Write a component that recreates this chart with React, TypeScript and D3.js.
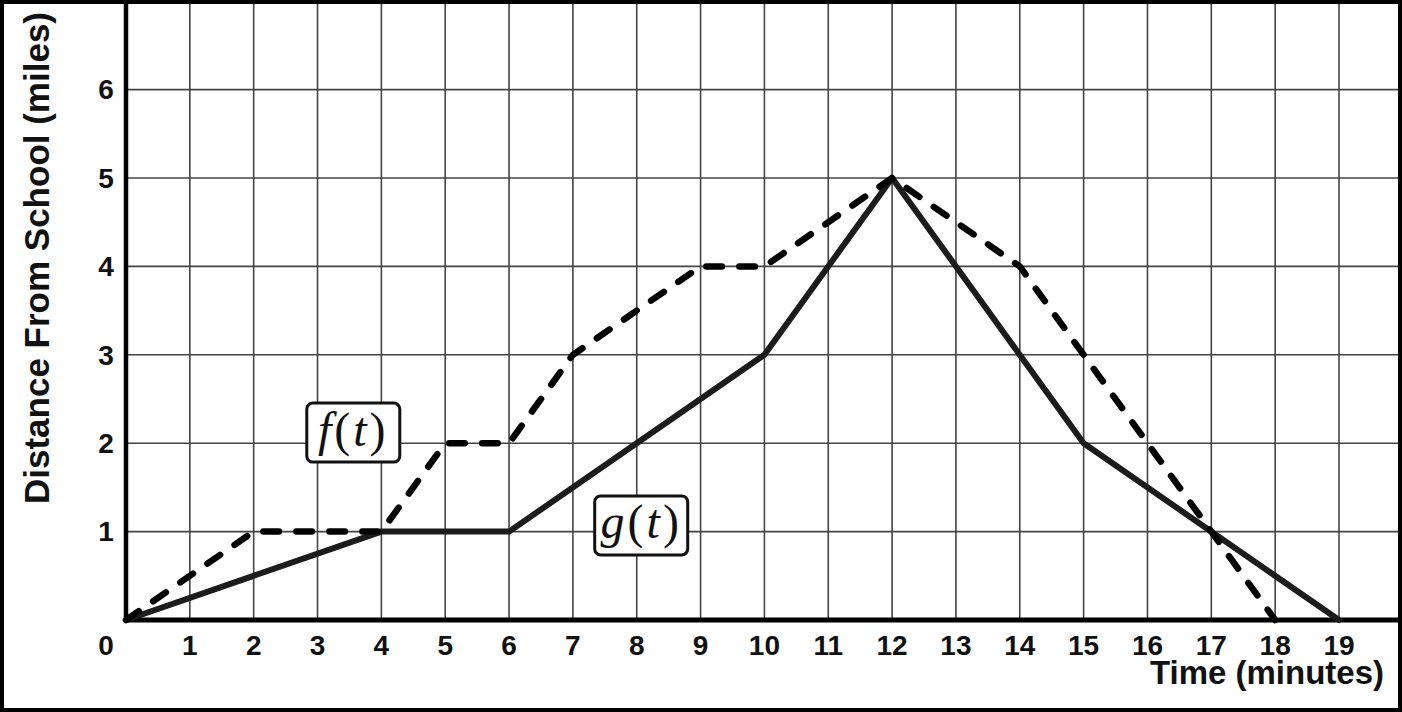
import * as d3 from 'd3'

const fTimes = [0, 2, 4, 5, 6, 7, 9, 10, 12, 14, 15, 18]
const fDist = [0, 1, 1, 2, 2, 3, 4, 4, 5, 4, 3, 0]
const gTimes = [0, 4, 6, 10, 12, 15, 19]
const gDist = [0, 1, 1, 3, 5, 2, 0]
const xTicks = d3.range(0, 20)
const yTicks = [1, 2, 3, 4, 5, 6]
const fLabelAt = [3.56, 2.12]
const gLabelAt = [8.07, 1.07]

const App = () => {
    const width = 1402
    const height = 712

    const x = d3.scaleLinear().domain([0, 19]).range([126, 1339])
    const y = d3.scaleLinear().domain([0, 6]).range([620, 89.6])

    const line = d3
        .line<[number, number]>()
        .x(d => x(d[0]))
        .y(d => y(d[1]))

    const fPts = fTimes.map((t, i) => [t, fDist[i]] as [number, number])
    const gPts = gTimes.map((t, i) => [t, gDist[i]] as [number, number])

    const sans = '"Liberation Sans", Arial, sans-serif'
    const serif = '"Liberation Serif", "Times New Roman", serif'

    const label = (name: string, at: number[]) => {
        const cx = x(at[0])
        const cy = y(at[1])
        return (
            <g key={name}>
                <rect x={cx - 46.5} y={cy - 29.5} width={93} height={59} rx={6}
                    fill="white" stroke="#111" strokeWidth={3} />
                <text x={cx} y={cy} dy="0.27em" textAnchor="middle" fontFamily={serif}
                    fontSize={48} letterSpacing={3} fill="#111">
                    <tspan fontStyle="italic">{name}</tspan>(<tspan fontStyle="italic">t</tspan>)
                </text>
            </g>
        )
    }

    return (
        <svg width={width} height={height}
            style={{ position: 'absolute', left: 0, top: 0, display: 'block', background: 'white' }}>
            {/* grid */}
            {xTicks.slice(1).map(t => (
                <line key={'vx' + t} x1={x(t)} x2={x(t)} y1={0} y2={y(0)} stroke="#444" strokeWidth={1.6} />
            ))}
            {yTicks.map(v => (
                <line key={'hy' + v} x1={x(0)} x2={width} y1={y(v)} y2={y(v)} stroke="#444" strokeWidth={1.6} />
            ))}

            {/* axes */}
            <line x1={x(0)} x2={x(0)} y1={0} y2={y(0) + 2} stroke="black" strokeWidth={4.5} />
            <line x1={x(0) - 2} x2={width} y1={y(0)} y2={y(0)} stroke="black" strokeWidth={5} />

            {/* tick labels */}
            {xTicks.map(t => (
                <text key={'xt' + t} x={t === 0 ? 106 : x(t)} y={y(0) + 25} dy="0.35em" textAnchor="middle"
                    fontFamily={sans} fontWeight="bold" fontSize={28} fill="#111">{t}</text>
            ))}
            {yTicks.map(v => (
                <text key={'yt' + v} x={106} y={y(v)} dy="0.35em" textAnchor="middle"
                    fontFamily={sans} fontWeight="bold" fontSize={28} fill="#111">{v}</text>
            ))}

            {/* axis titles */}
            <text x={1384} y={684} textAnchor="end" fontFamily={sans} fontWeight="bold"
                fontSize={33} fill="#111">Time (minutes)</text>
            <text transform="translate(49,258) rotate(-90)" textAnchor="middle" fontFamily={sans}
                fontWeight="bold" fontSize={35} fill="#111">Distance From School (miles)</text>

            {/* series */}
            <path d={line(gPts) ?? ''} fill="none" stroke="#1c1c1c" strokeWidth={6}
                strokeLinejoin="round" strokeLinecap="round" />
            <path d={line(fPts) ?? ''} fill="none" stroke="black" strokeWidth={6.5}
                strokeDasharray="15.5,17.5" strokeLinejoin="round" strokeLinecap="round" />

            {label('f', fLabelAt)}
            {label('g', gLabelAt)}

            {/* outer frame */}
            <rect x={2} y={2} width={width - 4} height={height - 4} fill="none" stroke="black" strokeWidth={4} />
        </svg>
    )
}

export default App
